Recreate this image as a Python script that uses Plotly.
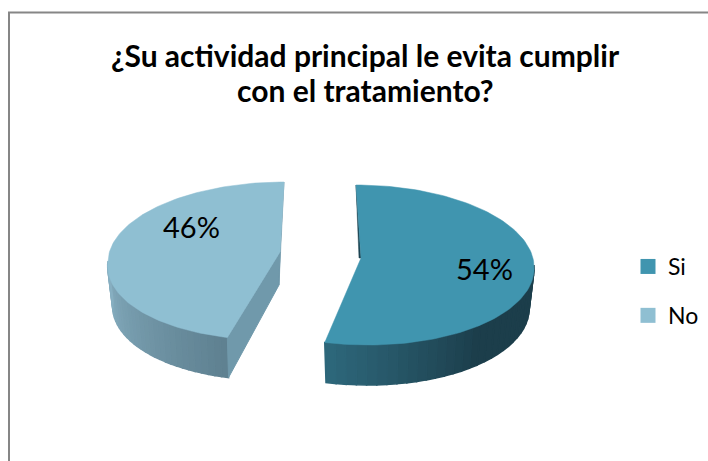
import math
import plotly.graph_objects as go

# Data
categories = ["Si", "No"]
shares = [54, 46]
title_lines = ["¿Su actividad principal le evita cumplir", "con el tratamiento?"]

# Style / layout
W, H = 708, 461
FONT = "Lato, Carlito, Calibri, sans-serif"
top_colors = {"Si": "#4095AF", "No": "#8FBFD2"}
geom = {
    "Si": dict(cx=361, cy=265, a=173, b=80, tip=(361, 258), shear_t=-5, shear_b=-7),
    "No": dict(cx=281, cy=261, a=173, b=79, tip=(280, 252), shear_t=3, shear_b=11),
}
DEPTH, INSET = 40, 5


def rim(g, deg, bottom=False):
    t = math.radians(deg)
    a = g["a"] - (INSET if bottom else 0)
    c = math.cos(t)
    shear = g["shear_t"] if c > 0 else g["shear_b"]
    x = g["cx"] + a * math.sin(t) + shear * c
    y = g["cy"] + (DEPTH if bottom else 0) - g["b"] * c
    return x, y


def lerp(c1, c2, u):
    u = max(0, min(1, u))
    rgb = [round(p + (q - p) * u) for p, q in zip(c1, c2)]
    return "rgb({},{},{})".format(*rgb)


fig = go.Figure()


def poly(pts, color, lw=1.0):
    xs = [p[0] for p in pts] + [pts[0][0]]
    ys = [p[1] for p in pts] + [pts[0][1]]
    fig.add_trace(go.Scatter(x=xs, y=ys, mode="lines", fill="toself", fillcolor=color,
                             line=dict(color=color, width=lw), hoverinfo="skip",
                             showlegend=False))


def wall(g, d0, d1, colorfn, n=30):
    for i in range(n):
        p = d0 + (d1 - d0) * i / n
        q = d0 + (d1 - d0) * (i + 1) / n
        poly([rim(g, p), rim(g, q), rim(g, q, True), rim(g, p, True)], colorfn((p + q) / 2), 1.5)


total = sum(shares)
split = 360 * shares[0] / total
gs, gn = geom["Si"], geom["No"]

# Si walls: visible outer wall runs from the right extreme to the cut edge
wall(gs, 90, split, lambda d: lerp((28, 62, 75), (46, 104, 124), (d - 140) / (split - 140)))
a0 = rim(gs, 0)
tip = gs["tip"]
poly([a0, tip, (tip[0] - 2, tip[1])], "#1D4452", 0.5)

# No walls
wall(gn, split, 270, lambda d: lerp((94, 128, 144), (136, 176, 194), (d - split) / (270 - split)))
tip = gn["tip"]
low, low_b = rim(gn, split), rim(gn, split, True)
tip_b = (tip[0] - 1, tip[1] + 33)
poly([tip, low, low_b, tip_b], "#7099AB")
poly([rim(gn, 360), tip, tip_b], "#7099AB", 0.5)


def top(g, d0, d1, color, n=120):
    pts = [g["tip"]] + [rim(g, d0 + (d1 - d0) * i / n) for i in range(n + 1)]
    poly(pts, color, 0.5)


top(gs, 0, split, top_colors["Si"])
top(gn, split, 360, top_colors["No"])

# Legend entries
for cat in categories:
    fig.add_trace(go.Scatter(x=[None], y=[None], mode="markers", name=cat, legendgroup=cat,
                             marker=dict(symbol="square", size=15, color=top_colors[cat])))

label_pos = {"Si": (484, 268), "No": (191, 226)}
annotations = []
for c, s in zip(categories, shares):
    annotations.append(dict(x=label_pos[c][0], y=label_pos[c][1], xref="x", yref="y",
                            text=f"{round(100 * s / total)}%", showarrow=False,
                            font=dict(family=FONT, size=29, color="#000000")))
for line, y in zip(title_lines, (55, 90)):
    annotations.append(dict(x=365, y=y, xref="x", yref="y", text=f"<b>{line}</b>", showarrow=False,
                            font=dict(family=FONT, size=30, color="#000000")))

fig.update_layout(
    width=W, height=H, margin=dict(l=0, r=0, t=0, b=0),
    paper_bgcolor="white", plot_bgcolor="white",
    xaxis=dict(range=[0, W], visible=False, fixedrange=True),
    yaxis=dict(range=[H, 0], visible=False, fixedrange=True),
    annotations=annotations,
    shapes=[dict(type="rect", xref="x", yref="y", x0=9, y0=12.5, x1=W + 20, y1=H + 20,
                 line=dict(color="#868686", width=2), fillcolor="rgba(0,0,0,0)", layer="below")],
    legend=dict(x=628 / W, y=1 - 245 / H, xref="paper", yref="paper",
                font=dict(family=FONT, size=23, color="#000000"),
                tracegroupgap=16, itemclick=False, itemdoubleclick=False, bgcolor="rgba(0,0,0,0)",
                xanchor="left", yanchor="top"),
    showlegend=True,
)
fig.write_html("out.html", config=dict(displayModeBar=False),
               post_script="document.body.style.margin='0';document.body.style.overflow='hidden';")
